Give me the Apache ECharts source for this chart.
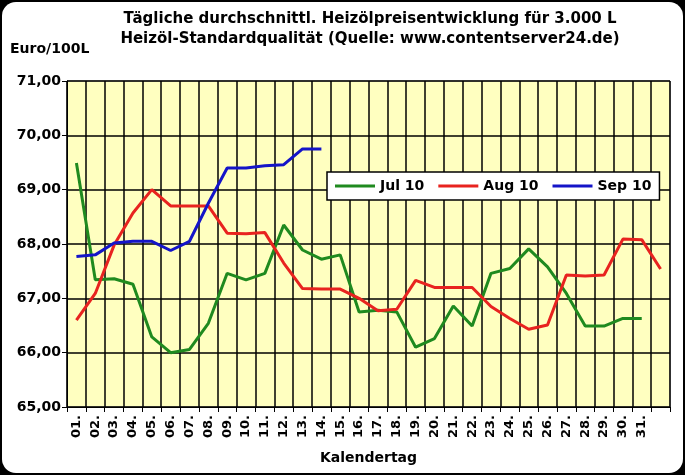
<!DOCTYPE html>
<html><head><meta charset="utf-8">
<script src="https://cdn.jsdelivr.net/npm/echarts@6/dist/echarts.min.js"></script>
<style>html,body{margin:0;padding:0;background:#000;}#c{width:685px;height:475px;}</style>
</head><body><div id="c"></div>
<script>
var days = ['01.','02.','03.','04.','05.','06.','07.','08.','09.','10.','11.','12.','13.','14.','15.','16.','17.','18.','19.','20.','21.','22.','23.','24.','25.','26.','27.','28.','29.','30.','31.',''];
var jul = [69.49,67.34,67.36,67.26,66.29,66.0,66.06,66.54,67.46,67.34,67.46,68.35,67.89,67.72,67.8,66.75,66.78,66.75,66.1,66.26,66.86,66.49,67.46,67.55,67.91,67.58,67.09,66.49,66.49,66.63,66.63];
var aug = [66.6,67.09,67.98,68.57,69.0,68.7,68.7,68.7,68.2,68.19,68.21,67.65,67.18,67.17,67.17,67.0,66.77,66.8,67.33,67.2,67.2,67.2,66.85,66.63,66.43,66.51,67.43,67.41,67.43,68.09,68.08,67.54];
var sep = [67.77,67.8,68.02,68.05,68.05,67.88,68.05,68.75,69.4,69.4,69.44,69.46,69.75,69.75];
var yTicks = {min:65, max:71, interval:1};
var chart = echarts.init(document.getElementById('c'));
var F = 'DejaVu Sans, sans-serif';
function s(name, data, color){return {name:name,type:'line',data:data,symbol:'none',lineStyle:{color:color,width:3},itemStyle:{color:color}};}
chart.setOption({
  backgroundColor:'#000',
  graphic:[{type:'rect',shape:{x:2,y:2,width:681,height:471,r:14},style:{fill:'#fff'},z:-10},
    {type:'text',left:10,top:42,style:{text:'Euro/100L',font:'bold 14px DejaVu Sans',fill:'#000'}}],
  title:{text:'Tägliche durchschnittl. Heizölpreisentwicklung für 3.000 L\nHeizöl-Standardqualität (Quelle: www.contentserver24.de)',left:365,textAlign:'center',top:4,textStyle:{fontFamily:F,fontSize:15,fontWeight:'bold',color:'#000',lineHeight:20}},
  legend:{left:327,top:172,itemWidth:40,itemHeight:3,itemGap:14,backgroundColor:'#fff',borderColor:'#000',borderWidth:1.5,padding:[7,8,7,8],borderRadius:0,textStyle:{fontFamily:F,fontSize:14,fontWeight:'bold',color:'#000'},icon:'rect',data:['Jul 10','Aug 10','Sep 10']},
  grid:{left:67,right:15,top:81,bottom:68,show:true,backgroundColor:'#ffffc0',borderColor:'#808080',borderWidth:1},
  xAxis:{type:'category',data:days,boundaryGap:true,name:'Kalendertag',nameLocation:'middle',nameGap:44,nameTextStyle:{fontFamily:F,fontSize:14,fontWeight:'bold',color:'#000'},
    axisLine:{lineStyle:{color:'#000'}},axisTick:{show:true,interval:0,lineStyle:{color:'#000'}},
    axisLabel:{interval:0,rotate:90,fontFamily:F,fontSize:13,fontWeight:'bold',color:'#000'},
    splitLine:{show:true,interval:0,lineStyle:{color:'#000',width:1.5}}},
  yAxis:{type:'value',min:yTicks.min,max:yTicks.max,interval:yTicks.interval,
    axisLine:{show:true,lineStyle:{color:'#000'}},axisTick:{show:true,lineStyle:{color:'#000'}},
    axisLabel:{fontFamily:F,fontSize:14,fontWeight:'bold',color:'#000',margin:6,formatter:function(v){return v.toFixed(2).replace('.',',');}},
    splitLine:{lineStyle:{color:'#000',width:1.5}}},
  series:[s('Jul 10',jul,'#1f8a1f'),s('Aug 10',aug,'#e8231f'),s('Sep 10',sep,'#1414c8')]
});
</script></body></html>
